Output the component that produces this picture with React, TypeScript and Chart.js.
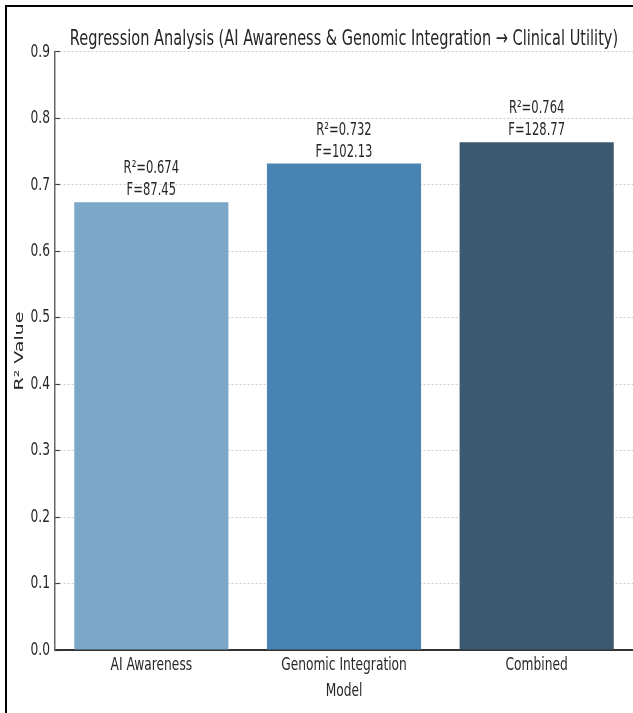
import { useEffect, useRef } from 'react';
import { Chart, registerables } from 'chart.js';

Chart.register(...registerables);

const chartTitle = 'Regression Analysis (AI Awareness & Genomic Integration \u2192 Clinical Utility)';
const categories = ['AI Awareness', 'Genomic Integration', 'Combined'];
const rSquared = [0.674, 0.732, 0.764];
const fValues = [87.45, 102.13, 128.77];
const barColors = ['#7ba7c8', '#4884b3', '#3c5a6f'];
const yMin = 0;
const yMax = 0.9;
const yStep = 0.1;
const xTitle = 'Model';
const yTitle = 'R\u00b2 Value';

const FAMILY = "'DejaVu Sans', sans-serif";
const SQUASH = 0.68;
const TEXT = '#262626';

function patchContext(ctx: any) {
  if (ctx.__patched) return;
  const orig = ctx.fillText;
  ctx.fillText = function (text: string, x: number, y: number, maxWidth?: number) {
    const m = this.getTransform();
    if (Math.abs(m.b) > 1e-6) {
      this.save();
      this.setTransform(m.a * SQUASH, m.b, m.c * SQUASH, m.d, m.e, m.f);
      orig.call(this, text, x, y);
      this.restore();
      return;
    }
    const w = this.measureText(text).width * SQUASH;
    const mw = maxWidth === undefined || maxWidth === null ? w : Math.min(maxWidth, w);
    orig.call(this, text, x, y, mw);
  };
  ctx.__patched = true;
}

const barLabelPlugin = {
  id: 'barLabels',
  afterDatasetsDraw(chart: any) {
    const { ctx } = chart;
    const meta = chart.getDatasetMeta(0);
    ctx.save();
    ctx.font = `17px ${FAMILY}`;
    ctx.fillStyle = TEXT;
    ctx.textAlign = 'center';
    ctx.textBaseline = 'alphabetic';
    meta.data.forEach((el: any, i: number) => {
      const { x, y } = el.getProps(['x', 'y'], true);
      ctx.fillText(`F=${fValues[i].toFixed(2)}`, x, y - 7);
      ctx.fillText(`R\u00b2=${rSquared[i].toFixed(3)}`, x, y - 29);
    });
    ctx.restore();
  },
};

export default function App() {
  const ref = useRef<HTMLCanvasElement | null>(null);

  useEffect(() => {
    const canvas = ref.current;
    if (!canvas) return;
    const ctx = canvas.getContext('2d');
    patchContext(ctx);
    const chart = new Chart(canvas, {
      type: 'bar',
      data: {
        labels: categories,
        datasets: [
          {
            data: rSquared,
            backgroundColor: barColors,
            borderWidth: 0,
            barPercentage: 0.8,
            categoryPercentage: 1,
          },
        ],
      },
      options: {
        responsive: false,
        animation: false,
        devicePixelRatio: 1,
        layout: { padding: { left: 0, right: 0, top: 0, bottom: 0 } },
        plugins: {
          legend: { display: false },
          tooltip: { enabled: false },
          title: {
            display: true,
            text: chartTitle,
            fullSize: false,
            color: TEXT,
            font: { family: FAMILY, size: 21.4, weight: 'normal' },
            padding: { top: 26.2, bottom: 0.1 },
          },
        },
        scales: {
          x: {
            type: 'category',
            offset: true,
            grid: {
              display: true,
              color: 'rgba(0,0,0,0)',
              drawOnChartArea: false,
              drawTicks: true,
              tickLength: -5,
              tickColor: '#333333',
              tickWidth: 1.2,
              offset: false,
            },
            border: { display: true, color: '#333333', width: 2 },
            ticks: {
              font: { family: FAMILY, size: 18 },
              color: TEXT,
              padding: 9.7,
              maxRotation: 0,
              autoSkip: false,
            },
            title: {
              display: true,
              text: xTitle,
              color: TEXT,
              font: { family: FAMILY, size: 18 },
              padding: { top: 0, bottom: 10.7 },
            },
            afterFit(s: any) {
              s.height = 63;
            },
          },
          y: {
            min: yMin,
            max: yMax,
            ticks: {
              stepSize: yStep,
              callback: (v: any) => Number(v).toFixed(1),
              font: { family: FAMILY, size: 18 },
              color: TEXT,
              padding: 10,
            },
            grid: {
              color: '#cccccc',
              lineWidth: 1,
              tickLength: -5,
              tickColor: '#444444',
              tickWidth: 1.2,
            },
            border: { display: true, color: '#666666', width: 1.5, dash: [2, 2] },
            title: {
              display: true,
              text: yTitle,
              color: TEXT,
              font: { family: FAMILY, size: 19 },
              padding: { top: 8.6, bottom: 0 },
            },
            afterFit(s: any) {
              s.width = 55;
            },
          },
        },
      },
      plugins: [barLabelPlugin],
    } as any);
    return () => chart.destroy();
  }, []);

  return (
    <div style={{ position: 'fixed', left: 0, top: 0, width: 633, height: 713, background: '#ffffff', overflow: 'hidden' }}>
      <canvas
        ref={ref}
        width={633}
        height={713}
        style={{ position: 'absolute', left: 0, top: 0, width: 633, height: 713 }}
      />
      <div
        style={{
          position: 'absolute',
          left: 5,
          top: 5,
          width: 628,
          height: 708,
          boxSizing: 'border-box',
          borderLeft: '2px solid #000',
          borderTop: '2px solid #000',
          pointerEvents: 'none',
        }}
      />
    </div>
  );
}
